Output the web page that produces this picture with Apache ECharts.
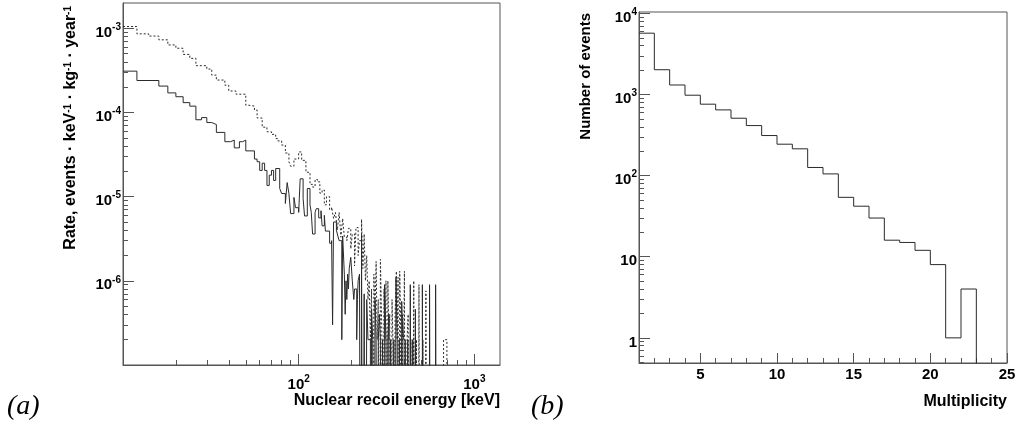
<!doctype html>
<html lang="en">

<head>
  <meta charset="UTF-8">
  <title>Recoil spectrum and multiplicity</title>
  <style>
    * {
      margin: 0;
      padding: 0;
    }

    html,
    body {
      width: 100%;
      height: 100%;
      background: #ffffff;
    }

    #main {
      width: 1018px;
      height: 430px;
    }
  </style>
</head>

<body>
  <div id="main"></div>
</body>

</html>
<script src="https://cdn.jsdelivr.net/npm/echarts@6/dist/echarts.min.js"></script>
<script>
  // (a) bin edges in keV, rate in events / keV / kg / year, 0 = empty bin
  let solidEdges = [
    10, 12, 16, 18, 20, 22, 24, 26, 28, 30,
    32, 34, 38, 41, 43, 46, 48, 50, 56, 58,
    60, 62, 64, 66, 68, 70, 72, 74, 78, 80,
    84, 86, 88, 90, 94, 96, 100, 102, 106, 108,
    112, 116, 118, 120, 124, 126, 130, 134, 136, 140,
    142, 150, 154, 156, 158, 164, 166, 170, 176, 178,
    182, 184, 186, 188, 190, 192, 194, 198, 202, 206,
    208, 214, 216, 218, 222, 226, 228, 232, 236, 240,
    244, 248, 256, 260, 264, 268, 272, 276, 280, 284,
    288, 292, 296, 300, 304, 308, 314, 318, 322, 326,
    330, 334, 342, 348, 352, 358, 364, 368, 374, 380,
    386, 392, 398, 404, 410, 418, 424, 432, 440, 446,
    452, 462, 470, 506, 514, 556, 564, 602, 610, 1400
  ]
  let solidRate = [
    3.1e-4, 2.4e-4, 2.06e-4, 1.71e-4, 1.54e-4, 1.31e-4, 1.19e-4, 8.2e-5, 8.7e-5, 7.6e-5,
    7.2e-5, 5.8e-5, 4.5e-5, 4.7e-5, 3.8e-5, 4.5e-5, 4.7e-5, 3.5e-5, 2.8e-5, 2.6e-5,
    2.05e-5, 2.5e-5, 2.05e-5, 1.36e-5, 1.8e-5, 2.05e-5, 1.56e-5, 2.16e-5, 1.25e-5, 1.09e-5,
    8.3e-6, 1.47e-5, 1.09e-5, 6.3e-6, 9.8e-6, 7.4e-6, 6.5e-6, 1.63e-5, 9.5e-6, 5.9e-6,
    1.25e-5, 8e-6, 6.5e-6, 3.6e-6, 6.5e-6, 7.2e-6, 5.6e-6, 6.8e-6, 4.5e-6, 6.0e-6,
    3.9e-6, 2.8e-6, 3.0e-6, 3.0e-7, 5.0e-6, 4.0e-6, 3.6e-6, 3.0e-6, 2e-7, 3.4e-6,
    1.2e-6, 4e-7, 1.0e-6, 6e-7, 1.2e-6, 8e-7, 1.4e-6, 1.9e-6, 1.0e-6, 6e-7,
    8e-7, 2e-7, 6e-7, 1.0e-6, 1.2e-6, 0, 3.5e-6, 0, 7e-7, 0,
    6e-7, 2e-7, 0, 4.6e-7, 2e-7, 0, 6e-7, 2e-7, 0, 2e-7,
    4e-7, 2e-7, 0, 2e-7, 0, 9e-7, 2e-7, 0, 2e-7, 4e-7,
    0, 2e-7, 0, 2e-7, 0, 1.1e-6, 2e-7, 0, 2e-7, 0,
    5.7e-7, 2e-7, 0, 2e-7, 0, 2e-7, 0, 9e-7, 0, 2e-7,
    0, 4.6e-7, 0, 9e-7, 0, 9e-7, 0, 9e-7, 0
  ]
  let dottedEdges = [
    10, 12, 14, 16, 18, 20, 22, 24, 26, 30,
    32, 34, 38, 40, 44, 50, 52, 56, 58, 62,
    66, 70, 74, 76, 80, 84, 88, 90, 94, 100,
    104, 110, 116, 120, 124, 128, 132, 136, 140, 144,
    150, 154, 158, 162, 166, 170, 174, 178, 182, 188,
    192, 198, 202, 208, 212, 218, 222, 228, 232, 236,
    240, 244, 248, 252, 256, 260, 264, 268, 272, 276,
    280, 284, 288, 292, 298, 302, 306, 310, 314, 318,
    322, 326, 330, 334, 340, 344, 350, 354, 360, 364,
    368, 372, 376, 380, 384, 390, 396, 400, 406, 414,
    420, 428, 436, 444, 452, 460, 468, 476, 484, 492,
    510, 518, 530, 540, 668, 698, 1400
  ]
  let dottedRate = [
    1.05e-3, 8.6e-4, 8.1e-4, 7.3e-4, 6.35e-4, 5.8e-4, 4.9e-4, 4.4e-4, 3.6e-4, 3.28e-4,
    2.78e-4, 2.43e-4, 2.11e-4, 1.8e-4, 1.65e-4, 1.22e-4, 1.19e-4, 1.07e-4, 8.6e-5, 6.7e-5,
    5.9e-5, 5.5e-5, 4.9e-5, 4.6e-5, 4.1e-5, 3.3e-5, 2.6e-5, 2.3e-5, 2.8e-5, 3.4e-5,
    2.7e-5, 1.95e-5, 1.4e-5, 1.3e-5, 1.6e-5, 1.5e-5, 1.1e-5, 1.2e-5, 8e-6, 1.0e-5,
    7e-6, 7.5e-6, 5.5e-6, 6.5e-6, 4e-6, 6.5e-6, 3.3e-6, 5.5e-6, 3.3e-6, 3e-6,
    4.2e-6, 2.4e-6, 3.6e-6, 1.5e-6, 4.3e-6, 2.0e-6, 3.0e-6, 5.4e-6, 1.4e-6, 3.6e-6,
    1.0e-6, 2.0e-6, 6e-7, 1.0e-6, 2e-7, 8e-7, 0, 1.2e-6, 4e-7, 1.7e-6,
    2e-7, 6e-7, 0, 1.8e-6, 2e-7, 0, 8e-7, 2e-7, 1.0e-6, 0,
    1.0e-6, 2e-7, 4e-7, 0, 6e-7, 2e-7, 0, 4e-7, 1.3e-6, 2e-7,
    1.1e-6, 0, 1.3e-6, 4e-7, 0, 4e-7, 2e-7, 1.3e-6, 0, 2e-7,
    4e-7, 0, 2e-7, 0, 1.0e-6, 0, 2e-7, 0, 9e-7, 0,
    2e-7, 0, 7.6e-7, 0, 2e-7, 0
  ]

  // (b) multiplicity histogram, unit bins
  let multEdges = [1, 2, 3, 4, 5, 6, 7, 8, 9, 10, 11, 12, 13, 14, 15, 16, 17, 18, 19, 20, 21, 22, 23]
  let multCounts = [5700, 2020, 1310, 980, 760, 646, 510, 414, 312, 244, 214, 126, 105, 54, 42, 30, 16, 15, 12, 8, 1, 4]

  // tick labels
  let energyLabels = [100, 1000]
  let rateLabels = [1e-3, 1e-4, 1e-5, 1e-6]
  let multLabels = [5, 10, 15, 20, 25]
  let countLabels = [1, 10, 100, 1000, 10000]

  let FLOOR = 1e-12
  let frame = '#555555'
  let ink = '#2a2a2a'
  let font = 'Liberation Sans'

  function stepData(edges, vals, dropAtEnd) {
    let n = Math.min(edges.length - 1, vals.length)
    let d = []
    for (let i = 0; i < n; i++) {
      d.push([edges[i], vals[i] > 0 ? vals[i] : FLOOR])
    }
    d.push([edges[n], vals[n - 1] > 0 ? vals[n - 1] : FLOOR])
    if (dropAtEnd) d.push([edges[n], FLOOR])
    return d
  }

  function logMinor(min, max) {
    let t = []
    for (let p = Math.floor(Math.log10(min)); p <= Math.ceil(Math.log10(max)); p++) {
      for (let k = 2; k <= 9; k++) {
        let v = k * Math.pow(10, p)
        if (v > min * 1.0001 && v < max * 0.9999) t.push(v)
      }
    }
    return t
  }

  function pow10(v) {
    let e = Math.round(Math.log10(v))
    if (e === 0) return '{b|1}'
    if (e === 1) return '{b|10}'
    return '{b|10}{sup|' + e + '}'
  }

  let tickRich = {
    b: { fontSize: 15, fontWeight: 'bold', fontFamily: font, color: '#000', lineHeight: 18, verticalAlign: 'bottom' },
    sup: { fontSize: 10, fontWeight: 'bold', fontFamily: font, color: '#000', lineHeight: 8, verticalAlign: 'top' }
  }
  let nameRich = {
    sup: { fontSize: 10, fontWeight: 'bold', fontFamily: font, color: '#000', lineHeight: 8, verticalAlign: 'top' }
  }

  function mainAxis(type, grid, min, max, ticks, labels, len, labelOpt, extra) {
    return Object.assign({
      type: type,
      gridIndex: grid,
      min: min,
      max: max,
      nameMoveOverlap: false,
      axisLine: { show: true, lineStyle: { color: frame, width: 1 } },
      axisTick: { show: true, inside: true, length: len, customValues: ticks, lineStyle: { color: frame } },
      axisLabel: Object.assign({ customValues: labels, color: '#000', fontFamily: font, fontWeight: 'bold', fontSize: 15 }, labelOpt),
      splitLine: { show: false },
      minorTick: { show: false }
    }, extra)
  }

  function minorAxis(type, grid, min, max, ticks, pos) {
    return {
      type: type,
      gridIndex: grid,
      position: pos,
      min: min,
      max: max,
      axisLine: { show: false },
      axisTick: { show: true, inside: true, length: 5, customValues: ticks, lineStyle: { color: frame } },
      axisLabel: { show: false },
      splitLine: { show: false }
    }
  }

  let rightMinorX = multEdges.concat([24, 25]).filter(function (v) { return v > 1 && v < 25 && v % 5 !== 0 })

  let myChart = echarts.init(document.getElementById('main'))
  let option = {
    animation: false,
    backgroundColor: '#ffffff',
    grid: [
      { left: 123, top: 3, width: 377, height: 362, show: true, borderColor: frame, borderWidth: 1, containLabel: false, outerBoundsMode: 'none' },
      { left: 639, top: 12, width: 368, height: 351, show: true, borderColor: frame, borderWidth: 1, containLabel: false, outerBoundsMode: 'none' }
    ],
    xAxis: [
      mainAxis('log', 0, 10, 1400, energyLabels, energyLabels, 11,
        { margin: 9, formatter: pow10, rich: tickRich },
        {
          position: 'bottom',
          name: 'Nuclear recoil energy [keV]',
          nameLocation: 'end',
          nameGap: 0,
          nameTextStyle: { fontSize: 16, fontWeight: 'bold', fontFamily: font, color: '#000', align: 'right', verticalAlign: 'top', padding: [28, 0, 0, 0] }
        }),
      minorAxis('log', 0, 10, 1400, logMinor(10, 1400), 'bottom'),
      mainAxis('value', 1, 1, 25, multLabels, multLabels, 10,
        { margin: 4 },
        {
          position: 'bottom',
          name: 'Multiplicity',
          nameLocation: 'end',
          nameGap: 0,
          nameTextStyle: { fontSize: 16, fontWeight: 'bold', fontFamily: font, color: '#000', align: 'right', verticalAlign: 'top', padding: [31, 0, 0, 0] }
        }),
      minorAxis('value', 1, 1, 25, rightMinorX, 'bottom')
    ],
    yAxis: [
      mainAxis('log', 0, 1e-7, 2e-3, rateLabels, rateLabels, 11,
        { margin: 2, formatter: pow10, rich: tickRich, padding: [6, 0, 0, 0] },
        {
          position: 'left',
          name: 'Rate, events · keV{sup|-1} · kg{sup|-1} · year{sup|-1}',
          nameLocation: 'end',
          nameRotate: 90,
          nameGap: -3,
          nameTextStyle: { fontSize: 16, fontWeight: 'bold', fontFamily: font, color: '#000', align: 'right', verticalAlign: 'middle', padding: [0, 0, 104, 0], rich: nameRich }
        }),
      minorAxis('log', 0, 1e-7, 2e-3, logMinor(1e-7, 2e-3), 'left'),
      mainAxis('log', 1, 0.49, 10400, countLabels, countLabels, 11,
        { margin: 2, formatter: pow10, rich: tickRich, padding: [6, 0, 0, 0] },
        {
          position: 'left',
          name: '{t|Number of events}',
          nameLocation: 'end',
          nameRotate: 90,
          nameGap: -1,
          nameTextStyle: {
            fontSize: 15, fontWeight: 'bold', fontFamily: font, color: '#000', align: 'right', verticalAlign: 'middle', padding: [0, 0, 106, 0],
            rich: { t: { fontSize: 15, fontWeight: 'bold', fontFamily: font, color: '#000' } }
          }
        }),
      minorAxis('log', 1, 0.49, 10400, logMinor(0.49, 10400), 'left')
    ],
    graphic: [
      { type: 'text', left: 7, top: 393, style: { text: '(a)', font: 'italic 28px "Liberation Serif"', fill: '#000' } },
      { type: 'text', left: 531, top: 393, style: { text: '(b)', font: 'italic 28px "Liberation Serif"', fill: '#000' } }
    ],
    series: [
      {
        name: 'solid',
        type: 'line',
        xAxisIndex: 0,
        yAxisIndex: 0,
        step: 'end',
        showSymbol: false,
        symbol: 'none',
        clip: true,
        lineStyle: { color: ink, width: 1 },
        data: stepData(solidEdges, solidRate, false)
      },
      {
        name: 'dotted',
        type: 'line',
        xAxisIndex: 0,
        yAxisIndex: 0,
        step: 'end',
        showSymbol: false,
        symbol: 'none',
        clip: true,
        lineStyle: { color: ink, width: 1, type: [2, 2] },
        data: stepData(dottedEdges, dottedRate, false)
      },
      {
        name: 'multiplicity',
        type: 'line',
        xAxisIndex: 2,
        yAxisIndex: 2,
        step: 'end',
        showSymbol: false,
        symbol: 'none',
        clip: true,
        lineStyle: { color: ink, width: 1 },
        data: stepData(multEdges, multCounts, true)
      }
    ]
  }
  myChart.setOption(option)
</script>
